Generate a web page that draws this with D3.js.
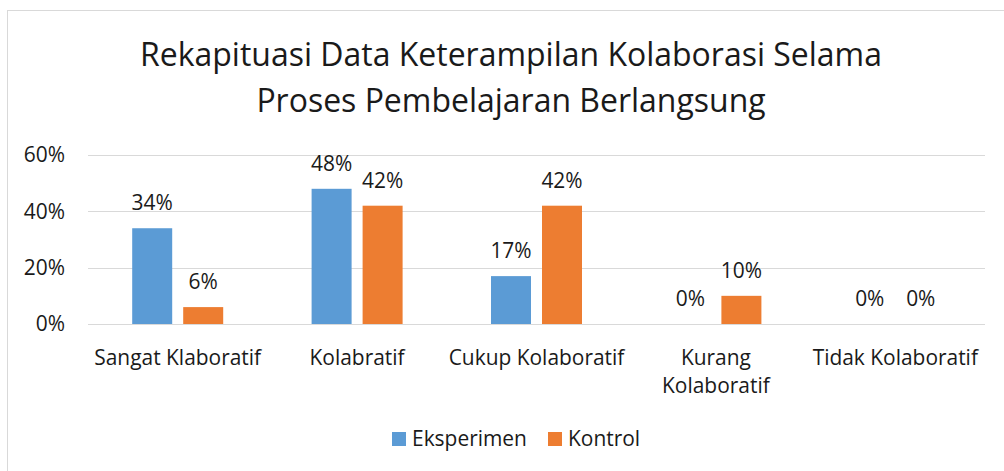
<!DOCTYPE html>
<html lang="id">
<head>
<meta charset="utf-8">
<script src="https://d3js.org/d3.v7.min.js"></script>
<style>
  body { margin: 0; background: #fff; }
  svg text { font-family: "Open Sans", "Noto Sans", sans-serif; fill: #1a1a1a; }
</style>
</head>
<body>
<script>
// data
const categories = ["Sangat Klaboratif", "Kolabratif", "Cukup Kolaboratif", "Kurang Kolaboratif", "Tidak Kolaboratif"];
const seriesNames = ["Eksperimen", "Kontrol"];
const eksperimen = [34, 48, 17, 0, 0];
const kontrol = [6, 42, 42, 10, 0];
const yTicks = [0, 20, 40, 60];
const titleLines = ["Rekapituasi Data Keterampilan Kolaborasi Selama", "Proses Pembelajaran Berlangsung"];

const colours = { "Eksperimen": "#5B9BD5", "Kontrol": "#ED7D31" };

const W = 1004, H = 471;
const plot = { left: 88, right: 985, top: 155, bottom: 324 };

const svg = d3.select("body").append("svg")
  .attr("width", W)
  .attr("height", H);

// chart frame (only top and left edges are visible in the crop)
svg.append("rect")
  .attr("x", 7.5).attr("y", 10.5)
  .attr("width", W + 10).attr("height", H + 10)
  .attr("fill", "none")
  .attr("stroke", "#D9D9D9");

// pick a font size so a string fills a given width
function fitSize(str, target) {
  const t = svg.append("text").attr("font-size", 100).text(str);
  const w = t.node().getComputedTextLength();
  t.remove();
  return 100 * target / w;
}

const titleSize = fitSize(titleLines[0], 742);
const labelSize = fitSize("Sangat Klaboratif", 167);

// title
svg.append("g").selectAll("text")
  .data(titleLines)
  .join("text")
  .attr("x", 511)
  .attr("y", (d, i) => 66 + i * 46)
  .attr("text-anchor", "middle")
  .attr("font-size", titleSize)
  .text(d => d);

// scales
const x = d3.scaleBand()
  .domain(categories)
  .range([plot.left, plot.right])
  .padding(0);

const y = d3.scaleLinear()
  .domain([0, 60])
  .range([plot.bottom, plot.top]);

const xSub = d3.scaleBand()
  .domain(seriesNames)
  .range([0, 91])
  .paddingInner(11 / 51);

// gridlines
svg.append("g").selectAll("line")
  .data(yTicks)
  .join("line")
  .attr("x1", plot.left).attr("x2", plot.right)
  .attr("y1", d => Math.round(y(d)) + 0.5)
  .attr("y2", d => Math.round(y(d)) + 0.5)
  .attr("stroke", "#D9D9D9")
  .attr("stroke-width", 1);

// y axis labels
const yAxis = svg.append("g")
  .attr("transform", "translate(" + (plot.left - 10) + ",0)")
  .call(d3.axisLeft(y).tickValues(yTicks).tickSize(0).tickPadding(13).tickFormat(d => d + "%"));
yAxis.select(".domain").remove();
yAxis.selectAll("text").attr("font-size", labelSize).attr("fill", "#1a1a1a");

// bars
const rows = categories.map((c, i) => ({
  category: c,
  values: [
    { series: "Eksperimen", value: eksperimen[i] },
    { series: "Kontrol", value: kontrol[i] }
  ]
}));

const groups = svg.append("g").selectAll("g")
  .data(rows)
  .join("g")
  .attr("transform", d => "translate(" + (x(d.category) + x.bandwidth() / 2 - 45.5) + ",0)");

groups.selectAll("rect")
  .data(d => d.values)
  .join("rect")
  .attr("x", d => xSub(d.series))
  .attr("y", d => y(d.value))
  .attr("width", xSub.bandwidth())
  .attr("height", d => y(0) - y(d.value))
  .attr("fill", d => colours[d.series]);

groups.selectAll("text")
  .data(d => d.values)
  .join("text")
  .attr("x", d => xSub(d.series) + xSub.bandwidth() / 2)
  .attr("y", d => y(d.value) - 18)
  .attr("text-anchor", "middle")
  .attr("font-size", labelSize)
  .text(d => d.value + "%");

// category labels, wrapped like Excel does
const catLines = {
  "Kurang Kolaboratif": ["Kurang", "Kolaboratif"]
};
const catG = svg.append("g").selectAll("text")
  .data(categories)
  .join("text")
  .attr("text-anchor", "middle")
  .attr("font-size", labelSize);
catG.selectAll("tspan")
  .data(d => (catLines[d] || [d]).map(s => ({ s: s, c: d })))
  .join("tspan")
  .attr("x", d => x(d.c) + x.bandwidth() / 2)
  .attr("y", (d, i) => 365 + i * 28)
  .text(d => d.s);

// legend
const legend = svg.append("g");
const legendX = { "Eksperimen": 392, "Kontrol": 548 };
const lg = legend.selectAll("g")
  .data(seriesNames)
  .join("g")
  .attr("transform", d => "translate(" + legendX[d] + ",432)");
lg.append("rect")
  .attr("width", 14).attr("height", 14)
  .attr("fill", d => colours[d]);
lg.append("text")
  .attr("x", 20).attr("y", 7)
  .attr("dy", "0.35em")
  .attr("font-size", labelSize)
  .text(d => d);
</script>
</body>
</html>
